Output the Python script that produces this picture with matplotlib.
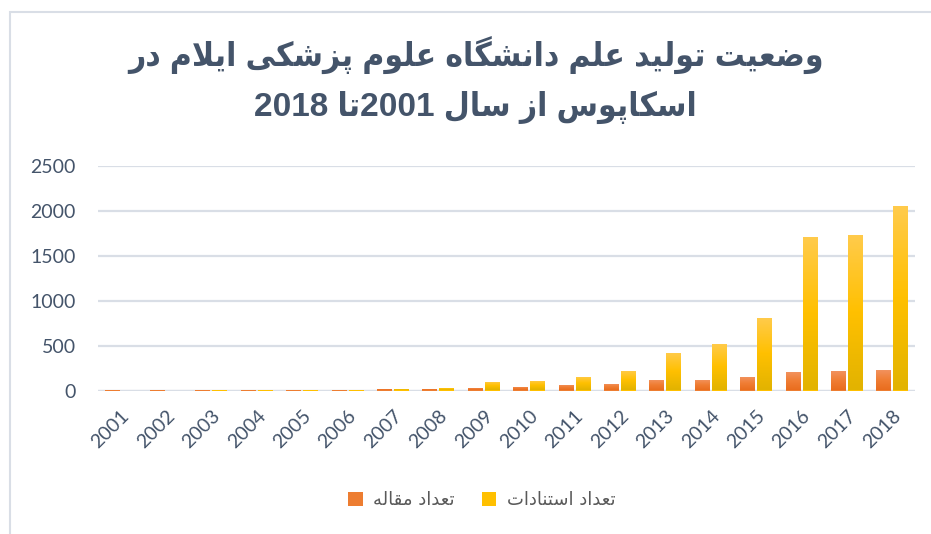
import re
import numpy as np
import matplotlib
matplotlib.use("Agg")
import matplotlib.pyplot as plt
from matplotlib import font_manager as fm
from matplotlib.patches import Rectangle
from matplotlib.colors import LinearSegmentedColormap

years = [str(y) for y in range(2001, 2019)]
articles = [2, 2, 3, 3, 3, 4, 15, 15, 30, 41, 63, 74, 118, 118, 152, 207, 218, 229]
citations = [0, 0, 2, 3, 2, 3, 15, 26, 98, 107, 152, 218, 418, 518, 807, 1706, 1728, 2050]

title_text = "وضعیت تولید علم دانشگاه علوم پزشکی ایلام در\nاسکاپوس از سال 2001تا 2018"
label_articles = "تعداد مقاله"
label_citations = "تعداد استنادات"

# matplotlib has no Arabic shaping, so map letters to presentation forms by hand
FORMS = {
    "ا": ("\uFE8D", "\uFE8E", None, None),
    "د": ("\uFEA9", "\uFEAA", None, None),
    "ر": ("\uFEAD", "\uFEAE", None, None),
    "ز": ("\uFEAF", "\uFEB0", None, None),
    "و": ("\uFEED", "\uFEEE", None, None),
    "ت": ("\uFE95", "\uFE96", "\uFE97", "\uFE98"),
    "س": ("\uFEB1", "\uFEB2", "\uFEB3", "\uFEB4"),
    "ش": ("\uFEB5", "\uFEB6", "\uFEB7", "\uFEB8"),
    "ض": ("\uFEBD", "\uFEBE", "\uFEBF", "\uFEC0"),
    "ع": ("\uFEC9", "\uFECA", "\uFECB", "\uFECC"),
    "ق": ("\uFED5", "\uFED6", "\uFED7", "\uFED8"),
    "ل": ("\uFEDD", "\uFEDE", "\uFEDF", "\uFEE0"),
    "م": ("\uFEE1", "\uFEE2", "\uFEE3", "\uFEE4"),
    "ن": ("\uFEE5", "\uFEE6", "\uFEE7", "\uFEE8"),
    "ه": ("\uFEE9", "\uFEEA", "\uFEEB", "\uFEEC"),
    "پ": ("\uFB56", "\uFB57", "\uFB58", "\uFB59"),
    "ک": ("\uFB8E", "\uFB8F", "\uFB90", "\uFB91"),
    "گ": ("\uFB92", "\uFB93", "\uFB94", "\uFB95"),
    "ی": ("\uFBFC", "\uFBFD", "\uFBFE", "\uFBFF"),
    "\uFEFB": ("\uFEFB", "\uFEFC", None, None),  # lam-alef
}


def shape_line(text):
    text = text.replace("لا", "\uFEFB")
    out = []
    n = len(text)
    for i, ch in enumerate(text):
        if ch not in FORMS:
            out.append(ch)
            continue
        prev = text[i - 1] if i > 0 else ""
        nxt = text[i + 1] if i < n - 1 else ""
        join_prev = prev in FORMS and FORMS[prev][2] is not None
        join_next = nxt in FORMS and FORMS[ch][2] is not None
        iso, fin, ini, med = FORMS[ch]
        if join_prev and join_next:
            out.append(med)
        elif join_prev:
            out.append(fin)
        elif join_next:
            out.append(ini)
        else:
            out.append(iso)
    vis = "".join(reversed(out))
    return re.sub(r"\d+", lambda m: m.group(0)[::-1], vis)


def rtl(text):
    return "\n".join(shape_line(line) for line in text.split("\n"))


text_color = "#44546A"
grid_color = "#D9DEE6"

fig = plt.figure(figsize=(9.31, 5.34), dpi=100)
ax = fig.add_axes([98 / 931, 1 - 390.5 / 534, (915 - 98) / 931, (390.5 - 166) / 534])

x = np.arange(len(years))
w = 0.33
off = 0.187
b1 = ax.bar(x - off, articles, w, color="#ED7D31", zorder=2, label=rtl(label_articles))
b2 = ax.bar(x + off, citations, w, color="#FFC000", zorder=2, label=rtl(label_citations))

cmap_o = LinearSegmentedColormap.from_list("o", ["#F29462", "#F07E35", "#E96D1E"])
cmap_y = LinearSegmentedColormap.from_list("y", ["#FFCB4C", "#FFC000", "#E2B300"])
grad = np.linspace(0, 1, 100).reshape(-1, 1)
for bars, cmap in ((b1, cmap_o), (b2, cmap_y)):
    for p in bars:
        if p.get_height() <= 0:
            continue
        x0, y0 = p.get_x(), p.get_y()
        im = ax.imshow(grad, cmap=cmap, aspect="auto", zorder=3, origin="upper",
                       extent=[x0, x0 + p.get_width(), y0, y0 + p.get_height()])
        im.set_clip_path(p)

ax.set_xlim(-0.5, len(years) - 0.5)
ax.set_ylim(0, 2500)
ax.set_yticks(range(0, 2501, 500))
ax.set_xticks(x)
ax.set_xticklabels(years, rotation=45, ha="right", rotation_mode="anchor")
ax.grid(axis="y", color=grid_color, linewidth=1.6, zorder=0)
ax.set_axisbelow(True)
for s in ax.spines.values():
    s.set_visible(False)
ax.axhline(0, color=grid_color, linewidth=1.6, zorder=1)
ax.tick_params(axis="both", length=0, labelsize=14, labelcolor=text_color)
ax.tick_params(axis="y", pad=16)
ax.tick_params(axis="x", pad=12)
for lbl in ax.get_xticklabels() + ax.get_yticklabels():
    lbl.set_fontfamily("Lato")

# narrow bold face for the title when one is installed
names = {f.name for f in fm.fontManager.ttflist}
title_fam = ["Liberation Sans Narrow", "DejaVu Sans"] if "Liberation Sans Narrow" in names \
    else ["Liberation Sans", "DejaVu Sans"]
fig.text(0.511, 1 - 80 / 534, rtl(title_text), ha="center", va="center",
         fontsize=24, fontweight="bold", fontstretch="condensed", color=text_color,
         family=title_fam, linespacing=1.7)

leg = fig.legend(handles=[b1, b2], loc="center", bbox_to_anchor=(482 / 931, 1 - 500 / 534),
                 ncol=2, frameon=False, handlelength=0.8, handleheight=0.8,
                 columnspacing=1.5, handletextpad=0.6,
                 prop={"family": "DejaVu Sans", "size": 13})
for t in leg.get_texts():
    t.set_color("#595959")

fig.add_artist(Rectangle((9.5 / 931, -0.1), 2, 1.1 - 11.5 / 534, transform=fig.transFigure,
                         fill=False, edgecolor="#D9DEE6", linewidth=1.5))

fig.savefig("out.png", dpi=100)
